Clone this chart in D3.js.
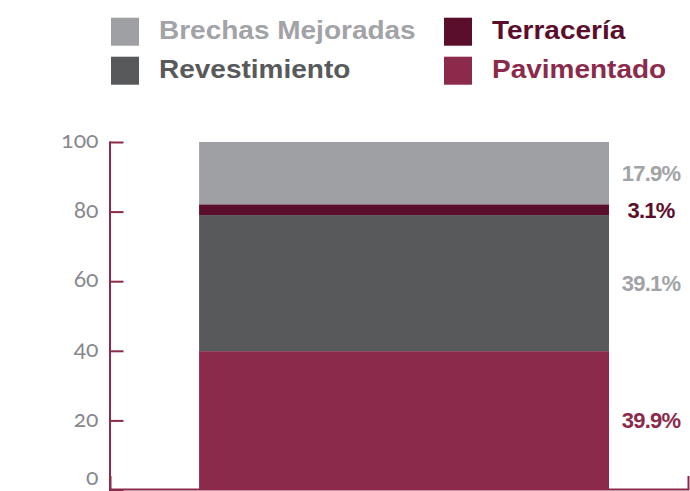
<!DOCTYPE html>
<html>
<head>
<meta charset="utf-8">
<script src="https://cdn.jsdelivr.net/npm/d3@7"></script>
<style>
  body { margin: 0; background: #fff; }
  .legend-text { font-family: "Liberation Sans", Arial, sans-serif; font-weight: bold; font-size: 25px; }
  .value-label { font-family: "Liberation Sans", Arial, sans-serif; font-weight: bold; font-size: 22px; letter-spacing: -0.8px; }
  .y-label { font-family: "Lato"; font-size: 23px; fill: #87888c; font-feature-settings: "onum" 1; font-variant-numeric: oldstyle-nums; }
</style>
</head>
<body>
<svg class="chart" width="690" height="491"></svg>
<script>
// data, bottom to top of the stack
let seriesNames = ['Pavimentado', 'Revestimiento', 'Terracería', 'Brechas Mejoradas'],
    seriesValues = [39.9, 39.1, 3.1, 17.9],
    valueLabels = ['39.9%', '39.1%', '3.1%', '17.9%'],
    categories = ['Total'],
    yTicks = [0, 20, 40, 60, 80, 100];

// legend reading order (row by row)
let legendOrder = ['Brechas Mejoradas', 'Terracería', 'Revestimiento', 'Pavimentado'];

let colors = {
  'Pavimentado': '#8c2a4b',
  'Revestimiento': '#58595b',
  'Terracería': '#5b0d2c',
  'Brechas Mejoradas': '#9fa0a4'
};
let labelColors = {
  'Pavimentado': '#8c2a4b',
  'Revestimiento': '#a2a3a7',
  'Terracería': '#5b0d2c',
  'Brechas Mejoradas': '#a2a3a7'
};
let axisColor = '#8c2a4b';

let svg = d3.select('.chart');

let row = {};
seriesNames.forEach(function (name, i) { row[name] = seriesValues[i]; });
row.category = categories[0];

let stacked = d3.stack().keys(seriesNames)([row]);

let x = d3.scaleBand()
  .domain(categories)
  .range([110, 688])
  .paddingInner(0)
  .paddingOuter(0.205)
  .align(0.53);

let y = d3.scaleLinear()
  .domain([0, 100])
  .range([490, 142]);

// bars
svg.append('g')
  .attr('class', 'bars')
  .selectAll('rect')
  .data(stacked)
  .enter()
  .append('rect')
  .attr('x', function (d) { return x(d[0].data.category); })
  .attr('width', x.bandwidth())
  .attr('y', function (d) { return y(d[0][1]); })
  .attr('height', function (d) { return y(d[0][0]) - y(d[0][1]); })
  .attr('fill', function (d) { return colors[d.key]; });

// value labels at the middle of each segment
svg.append('g')
  .selectAll('text')
  .data(stacked)
  .enter()
  .append('text')
  .attr('class', 'value-label')
  .attr('x', 651)
  .attr('y', function (d) { return y((d[0][0] + d[0][1]) / 2); })
  .attr('dy', '0.36em')
  .attr('text-anchor', 'middle')
  .attr('fill', function (d) { return labelColors[d.key]; })
  .text(function (d, i) { return valueLabels[i]; });

// y axis, ticks pointing into the plot
let yAxis = d3.axisLeft(y)
  .tickValues(yTicks)
  .tickFormat(d3.format('d'))
  .tickSizeInner(-14)
  .tickSizeOuter(0)
  .tickPadding(11);

let yAxisG = svg.append('g')
  .attr('class', 'y-axis')
  .attr('transform', 'translate(109.5,0)')
  .call(yAxis);

yAxisG.selectAll('path, line')
  .attr('stroke', axisColor)
  .attr('stroke-width', 2);
yAxisG.select('.domain').attr('stroke-linecap', 'square');

// old-style figures like the original
yAxisG.attr('font-family', null).attr('font-size', null);
yAxisG.selectAll('text')
  .attr('class', 'y-label')
  .attr('fill', null)
  .attr('dy', function (d) { return d === 0 ? '-0.25em' : '0.25em'; });

// x axis, only the base line with an upturned end
let xAxis = d3.axisBottom(x)
  .tickValues([])
  .tickSizeOuter(-13);

let xAxisG = svg.append('g')
  .attr('class', 'x-axis')
  .attr('transform', 'translate(0,489)')
  .call(xAxis);

xAxisG.select('.domain')
  .attr('stroke', axisColor)
  .attr('stroke-width', 2)
  .attr('fill', 'none');

// legend
let legendX = [111, 444],
    legendY = [17.7, 56.7];

let legend = svg.append('g')
  .attr('class', 'legend')
  .selectAll('g')
  .data(legendOrder)
  .enter()
  .append('g')
  .attr('transform', function (d, i) {
    return 'translate(' + legendX[i % 2] + ',' + legendY[Math.floor(i / 2)] + ')';
  });

legend.append('rect')
  .attr('width', 28)
  .attr('height', 28)
  .attr('fill', function (d) { return colors[d]; });

// text is a bit wider in the original face, so stretch it horizontally
legend.append('text')
  .attr('class', 'legend-text')
  .attr('transform', 'translate(48,21.5) scale(1.12,1)')
  .attr('fill', function (d) { return d === 'Brechas Mejoradas' ? '#a2a3a7' : colors[d]; })
  .text(function (d) { return d; });
</script>
</body>
</html>
